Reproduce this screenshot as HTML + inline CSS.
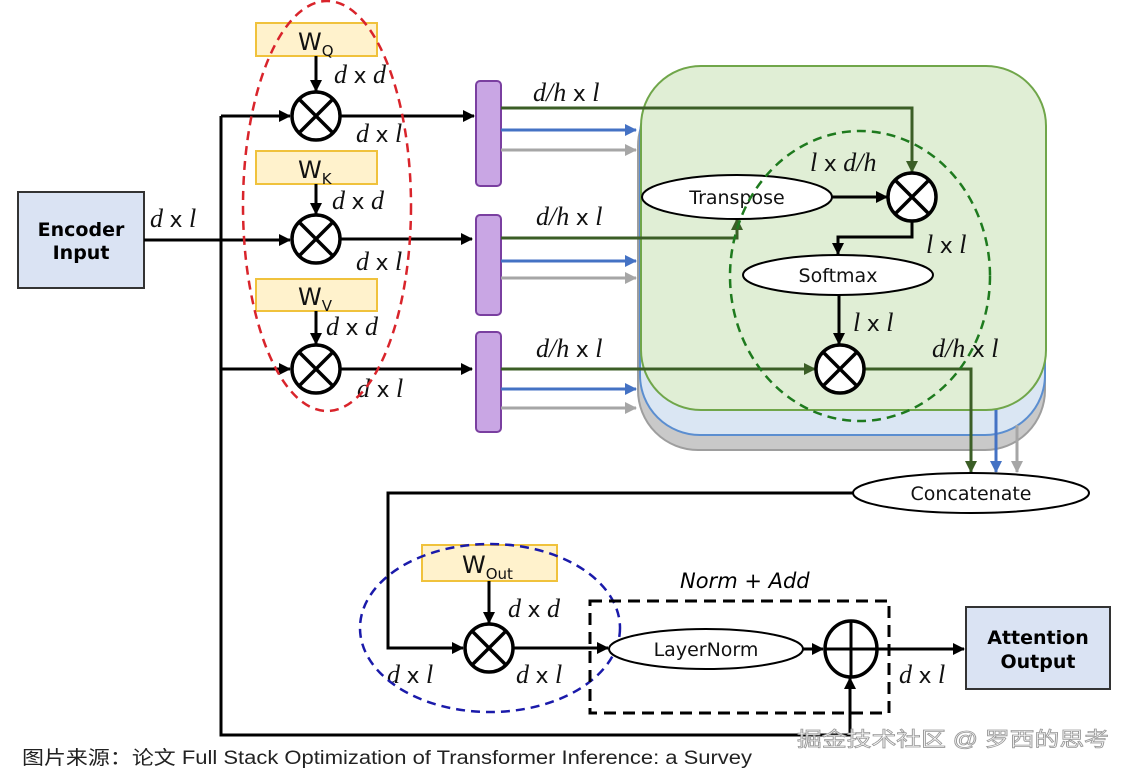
<!DOCTYPE html>
<html><head><meta charset="utf-8"><style>
html,body{margin:0;padding:0;background:#fff;width:1130px;height:773px;overflow:hidden}
svg{display:block}
.m{font-family:"Liberation Serif",serif;font-style:italic;font-size:26px;fill:#111}
.m tspan.x{font-style:normal;font-family:"DejaVu Sans",sans-serif;font-size:22px}
.s{font-family:"DejaVu Sans","Liberation Sans",sans-serif;font-size:19px;fill:#111}
.w{font-family:"DejaVu Sans","Liberation Sans",sans-serif;font-size:24px;fill:#111}
.w tspan{font-size:15px}
</style></head><body>
<svg width="1130" height="773" viewBox="0 0 1130 773" xmlns="http://www.w3.org/2000/svg">
<defs>
<marker id="ak" markerWidth="12" markerHeight="12" refX="11" refY="6" orient="auto" markerUnits="userSpaceOnUse"><path d="M0,0 L12,6 L0,12z" fill="#000"/></marker>
<marker id="ag" markerWidth="12" markerHeight="12" refX="11" refY="6" orient="auto" markerUnits="userSpaceOnUse"><path d="M0,0 L12,6 L0,12z" fill="#3b5e26"/></marker>
<marker id="ab" markerWidth="12" markerHeight="12" refX="11" refY="6" orient="auto" markerUnits="userSpaceOnUse"><path d="M0,0 L12,6 L0,12z" fill="#4472c4"/></marker>
<marker id="ay" markerWidth="12" markerHeight="12" refX="11" refY="6" orient="auto" markerUnits="userSpaceOnUse"><path d="M0,0 L12,6 L0,12z" fill="#a6a6a6"/></marker>
<g id="ot"><circle r="24" fill="#fff" stroke="#000" stroke-width="3.5"/><path d="M-17,-17 L17,17 M17,-17 L-17,17" stroke="#000" stroke-width="3.5"/></g>
</defs>

<rect x="638" y="86" width="407" height="364" rx="60" fill="#c9c9c9" stroke="#9e9e9e" stroke-width="2"/>
<rect x="640" y="76" width="405" height="359" rx="60" fill="#dae6f3" stroke="#5b8ed0" stroke-width="2"/>
<rect x="641" y="66" width="405" height="344" rx="60" fill="#e0eed5" stroke="#70a64a" stroke-width="2"/>

<rect x="18" y="192" width="126" height="96" fill="#dae3f3" stroke="#333" stroke-width="2"/>
<text x="81" y="236" text-anchor="middle" font-family="DejaVu Sans,sans-serif" font-weight="bold" font-size="19">Encoder</text>
<text x="81" y="259" text-anchor="middle" font-family="DejaVu Sans,sans-serif" font-weight="bold" font-size="19">Input</text>
<text class="m" x="150" y="227">d <tspan class="x">x</tspan> l</text>

<path d="M144,240 H290" stroke="#000" stroke-width="3" fill="none" marker-end="url(#ak)"/>
<path d="M221,116 V735 H850 V678" stroke="#000" stroke-width="3" fill="none" marker-end="url(#ak)"/>
<path d="M221,116 H290" stroke="#000" stroke-width="3" marker-end="url(#ak)"/>
<path d="M221,369 H290" stroke="#000" stroke-width="3" marker-end="url(#ak)"/>

<rect x="256" y="23" width="121" height="33" fill="#fff2cc" stroke="#f0c23c" stroke-width="2"/>
<text class="w" x="298" y="50">W<tspan dy="6">Q</tspan></text>
<rect x="256" y="151" width="121" height="33" fill="#fff2cc" stroke="#f0c23c" stroke-width="2"/>
<text class="w" x="298" y="178">W<tspan dy="6">K</tspan></text>
<rect x="256" y="279" width="121" height="32" fill="#fff2cc" stroke="#f0c23c" stroke-width="2"/>
<text class="w" x="298" y="305">W<tspan dy="6">V</tspan></text>
<path d="M316,56 V91" stroke="#000" stroke-width="3" marker-end="url(#ak)"/>
<path d="M316,184 V214" stroke="#000" stroke-width="3" marker-end="url(#ak)"/>
<path d="M316,311 V344" stroke="#000" stroke-width="3" marker-end="url(#ak)"/>
<use href="#ot" x="316" y="116"/><use href="#ot" x="316" y="239"/><use href="#ot" x="316" y="369"/>
<text class="m" x="334" y="83">d <tspan class="x">x</tspan> d</text>
<text class="m" x="356" y="142">d <tspan class="x">x</tspan> l</text>
<text class="m" x="332" y="209">d <tspan class="x">x</tspan> d</text>
<text class="m" x="356" y="270">d <tspan class="x">x</tspan> l</text>
<text class="m" x="326" y="335">d <tspan class="x">x</tspan> d</text>
<text class="m" x="357" y="397">d <tspan class="x">x</tspan> l</text>
<path d="M340,116 H474" stroke="#000" stroke-width="3" marker-end="url(#ak)"/>
<path d="M340,239 H472" stroke="#000" stroke-width="3" marker-end="url(#ak)"/>
<path d="M340,369 H472" stroke="#000" stroke-width="3" marker-end="url(#ak)"/>
<ellipse cx="327" cy="206" rx="84" ry="205" fill="none" stroke="#d9242b" stroke-width="2.5" stroke-dasharray="9,6"/>

<rect x="476" y="81" width="25" height="105" rx="4" fill="#c9a6e4" stroke="#7a3fa0" stroke-width="2"/>
<rect x="476" y="215" width="25" height="100" rx="4" fill="#c9a6e4" stroke="#7a3fa0" stroke-width="2"/>
<rect x="476" y="332" width="25" height="100" rx="4" fill="#c9a6e4" stroke="#7a3fa0" stroke-width="2"/>
<text class="m" x="533" y="101">d/h <tspan class="x">x</tspan> l</text>
<text class="m" x="536" y="225">d/h <tspan class="x">x</tspan> l</text>
<text class="m" x="536" y="357">d/h <tspan class="x">x</tspan> l</text>
<path d="M501,130 H636" stroke="#4472c4" stroke-width="3" marker-end="url(#ab)"/>
<path d="M501,150 H636" stroke="#a6a6a6" stroke-width="3" marker-end="url(#ay)"/>
<path d="M501,261 H636" stroke="#4472c4" stroke-width="3" marker-end="url(#ab)"/>
<path d="M501,278 H636" stroke="#a6a6a6" stroke-width="3" marker-end="url(#ay)"/>
<path d="M501,389 H636" stroke="#4472c4" stroke-width="3" marker-end="url(#ab)"/>
<path d="M501,408 H636" stroke="#a6a6a6" stroke-width="3" marker-end="url(#ay)"/>

<path d="M501,108 H912 V172" stroke="#3b5e26" stroke-width="3" fill="none" marker-end="url(#ag)"/>
<path d="M501,238 H737 V219" stroke="#3b5e26" stroke-width="3" fill="none" marker-end="url(#ag)"/>
<path d="M501,369 H815" stroke="#3b5e26" stroke-width="3" fill="none" marker-end="url(#ag)"/>
<path d="M864,369 H971 V472" stroke="#3b5e26" stroke-width="3" fill="none" marker-end="url(#ag)"/>
<path d="M996,410 V472" stroke="#4472c4" stroke-width="3" marker-end="url(#ab)"/>
<path d="M1017,425 V472" stroke="#a6a6a6" stroke-width="3" marker-end="url(#ay)"/>

<ellipse cx="737" cy="197" rx="95" ry="22" fill="#fff" stroke="#000" stroke-width="2"/>
<text class="s" x="737" y="204" text-anchor="middle">Transpose</text>
<path d="M832,197 H887" stroke="#000" stroke-width="3" marker-end="url(#ak)"/>
<use href="#ot" x="912" y="197"/>
<path d="M912,221 V237 H838 V254" stroke="#000" stroke-width="3" fill="none" marker-end="url(#ak)"/>
<ellipse cx="838" cy="275" rx="95" ry="20" fill="#fff" stroke="#000" stroke-width="2"/>
<text class="s" x="838" y="282" text-anchor="middle">Softmax</text>
<path d="M839,295 V344" stroke="#000" stroke-width="3" marker-end="url(#ak)"/>
<use href="#ot" x="840" y="369"/>
<text class="m" x="810" y="171">l <tspan class="x">x</tspan> d/h</text>
<text class="m" x="926" y="253">l <tspan class="x">x</tspan> l</text>
<text class="m" x="853" y="331">l <tspan class="x">x</tspan> l</text>
<text class="m" x="932" y="357">d/h <tspan class="x">x</tspan> l</text>
<ellipse cx="860" cy="276" rx="130" ry="145" fill="none" stroke="#1e7a1e" stroke-width="2.5" stroke-dasharray="9,6"/>

<ellipse cx="971" cy="493" rx="118" ry="20" fill="#fff" stroke="#000" stroke-width="2"/>
<text class="s" x="971" y="500" text-anchor="middle">Concatenate</text>
<path d="M853,493 H388 V648 H463" stroke="#000" stroke-width="3" fill="none" marker-end="url(#ak)"/>

<rect x="422" y="545" width="135" height="36" fill="#fff2cc" stroke="#f0c23c" stroke-width="2"/>
<text class="w" x="462" y="573">W<tspan dy="6">Out</tspan></text>
<path d="M489,581 V623" stroke="#000" stroke-width="3" marker-end="url(#ak)"/>
<use href="#ot" x="489" y="648"/>
<text class="m" x="508" y="617">d <tspan class="x">x</tspan> d</text>
<text class="m" x="387" y="683">d <tspan class="x">x</tspan> l</text>
<text class="m" x="516" y="683">d <tspan class="x">x</tspan> l</text>
<path d="M513,648 H608" stroke="#000" stroke-width="3" marker-end="url(#ak)"/>
<ellipse cx="490" cy="628" rx="130" ry="84" fill="none" stroke="#1a1aaa" stroke-width="2.5" stroke-dasharray="9,6"/>
<rect x="590" y="601" width="299" height="112" fill="none" stroke="#000" stroke-width="3" stroke-dasharray="12,7"/>
<text x="680" y="588" font-family="DejaVu Sans,sans-serif" font-style="italic" font-size="21">Norm + Add</text>
<ellipse cx="706" cy="649" rx="97" ry="20" fill="#fff" stroke="#000" stroke-width="2"/>
<text class="s" x="706" y="656" text-anchor="middle">LayerNorm</text>
<path d="M803,649 H823" stroke="#000" stroke-width="3" marker-end="url(#ak)"/>
<ellipse cx="851" cy="649" rx="26" ry="28" fill="#fff" stroke="#000" stroke-width="3.5"/>
<path d="M825,649 H877 M851,621 V677" stroke="#000" stroke-width="3"/>
<path d="M877,649 H964" stroke="#000" stroke-width="3" marker-end="url(#ak)"/>
<text class="m" x="899" y="683">d <tspan class="x">x</tspan> l</text>
<rect x="966" y="607" width="144" height="82" fill="#dae3f3" stroke="#333" stroke-width="2"/>
<text x="1038" y="644" text-anchor="middle" font-family="DejaVu Sans,sans-serif" font-weight="bold" font-size="19">Attention</text>
<text x="1038" y="668" text-anchor="middle" font-family="DejaVu Sans,sans-serif" font-weight="bold" font-size="19">Output</text>

<text x="22" y="764" font-family="Liberation Sans,'Noto Sans CJK SC',sans-serif" font-size="19" fill="#222" textLength="730" lengthAdjust="spacingAndGlyphs">图片来源：论文 Full Stack Optimization of Transformer Inference: a Survey</text>
<text x="797" y="746" font-family="Liberation Sans,'Noto Sans CJK SC',sans-serif" font-size="20" fill="#fff" stroke="#999" stroke-width="0.8" textLength="312" lengthAdjust="spacingAndGlyphs">掘金技术社区 @ 罗西的思考</text>
</svg>
</body></html>
